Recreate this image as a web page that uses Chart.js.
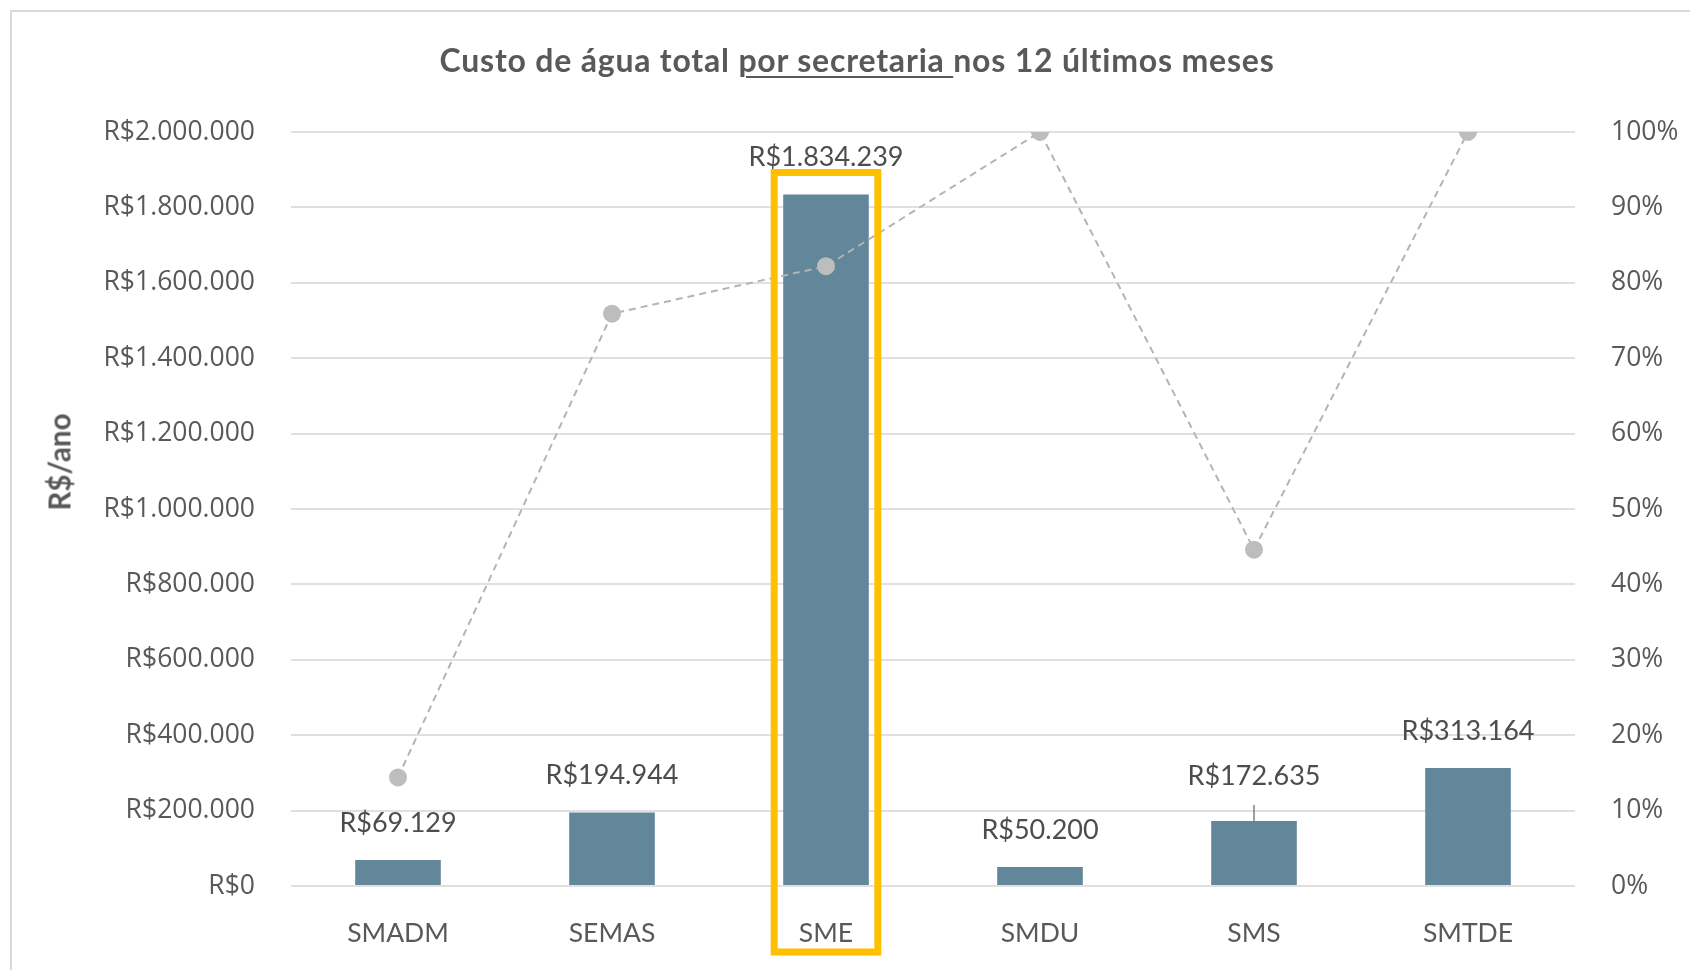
<!DOCTYPE html>
<html lang="pt-BR">
<head>
<meta charset="utf-8">
<title>Custo de água total por secretaria</title>
<script src="https://cdn.jsdelivr.net/npm/chart.js@4"></script>
<style>
  html, body { margin: 0; padding: 0; background: #fff; }
  #wrap { position: relative; width: 1690px; height: 970px; overflow: hidden; }
  #frame { position: absolute; left: 10px; top: 10px; width: 1700px; height: 1000px;
           border-left: 2px solid #d9d9d9; border-top: 2px solid #d9d9d9; box-sizing: border-box; }
  #title { position: absolute; left: 0; width: 1714px; top: 40px; text-align: center;
           font: bold 32px Lato, sans-serif; letter-spacing: 0.8px; color: #595959; }
  #title u { text-decoration-thickness: 2px; text-underline-offset: 4px; }
  #ytitle { position: absolute; left: 59px; top: 462px; transform: translate(-50%, -50%) rotate(-90deg);
            font: bold 29.5px Lato, sans-serif; color: #595959; white-space: nowrap; }
  #chart { position: absolute; left: 0; top: 0; }
</style>
</head>
<body>
<div id="wrap">
  <div id="frame"></div>
  <canvas id="chart" width="1690" height="970"></canvas>
  <div id="title">Custo de água total <u>por secretaria </u>nos 12 últimos meses</div>
  <div id="ytitle">R$/ano</div>
</div>
<script>
// dados
const secretarias = ['SMADM', 'SEMAS', 'SME', 'SMDU', 'SMS', 'SMTDE'];
const custoAnual = [69129, 194944, 1834239, 50200, 172635, 313164];
const percentual = [14.4, 75.9, 82.2, 100, 44.6, 100];
const destaque = 'SME';

const textColor = '#595959';

function formatReal(v) {
    return 'R$' + String(Math.round(v)).replace(/\B(?=(\d{3})+(?!\d))/g, '.');
}

// rótulos de valor acima das barras
const barLabels = {
    id: 'barLabels',
    afterDatasetsDraw(chart) {
        const ctx = chart.ctx;
        const meta = chart.getDatasetMeta(0);
        ctx.save();
        ctx.font = '27px Lato, sans-serif';
        ctx.fillStyle = '#4d4d4d';
        ctx.textAlign = 'center';
        ctx.textBaseline = 'middle';
        meta.data.forEach((bar, i) => {
            // SMS label was moved up in the original, with a leader line
            const lift = i === 4 ? 45 : 37;
            ctx.fillText(formatReal(custoAnual[i]), bar.x, bar.y - lift);
            if (i === 4) {
                ctx.strokeStyle = '#7f7f7f';
                ctx.lineWidth = 1.5;
                ctx.beginPath();
                ctx.moveTo(bar.x, bar.y - 16);
                ctx.lineTo(bar.x, bar.y);
                ctx.stroke();
            }
        });
        ctx.restore();
    }
};

// moldura amarela em volta da secretaria em destaque
const highlightBox = {
    id: 'highlightBox',
    afterDraw(chart) {
        const idx = secretarias.indexOf(destaque);
        const bar = chart.getDatasetMeta(0).data[idx];
        const ctx = chart.ctx;
        const half = bar.width / 2 + 9;
        const top = bar.y - 22;
        ctx.save();
        ctx.strokeStyle = '#ffc000';
        ctx.lineWidth = 7;
        ctx.strokeRect(bar.x - half, top, half * 2, chart.chartArea.bottom + 66 - top);
        ctx.restore();
    }
};

new Chart(document.getElementById('chart'), {
    type: 'bar',
    data: {
        labels: secretarias,
        datasets: [{
            data: custoAnual,
            backgroundColor: '#62869a',
            barPercentage: 0.8,
            categoryPercentage: 0.5,
            order: 1
        }, {
            type: 'line',
            data: percentual,
            yAxisID: 'y1',
            borderColor: '#b4b4b4',
            borderWidth: 2,
            borderDash: [7, 5],
            pointRadius: 8,
            pointBackgroundColor: '#bdbdbd',
            pointBorderColor: '#bdbdbd',
            tension: 0,
            order: 0
        }]
    },
    options: {
        responsive: false,
        animation: false,
        layout: { padding: { top: 132, left: 43, right: 5, bottom: 0 } },
        plugins: { legend: { display: false }, tooltip: { enabled: false } },
        scales: {
            x: {
                afterFit: s => { s.height = 84; },
                grid: { display: false },
                border: { display: false },
                ticks: { color: textColor, font: { family: 'Lato', size: 26.5 }, padding: 24 }
            },
            y: {
                min: 0,
                max: 2000000,
                afterFit: s => { s.width = 248; },
                ticks: {
                    stepSize: 200000,
                    color: textColor,
                    font: { family: 'Open Sans', size: 26.5 },
                    padding: 36,
                    callback: v => formatReal(v)
                },
                grid: { color: '#e0e0e0', lineWidth: 2, drawTicks: false },
                border: { display: false }
            },
            y1: {
                position: 'right',
                min: 0,
                max: 100,
                afterFit: s => { s.width = 110; },
                ticks: {
                    stepSize: 10,
                    color: textColor,
                    font: { family: 'Open Sans', size: 26.5 },
                    padding: 36,
                    callback: v => v + '%'
                },
                grid: { display: false, drawTicks: false },
                border: { display: false }
            }
        }
    },
    plugins: [barLabels, highlightBox]
});
</script>
</body>
</html>
